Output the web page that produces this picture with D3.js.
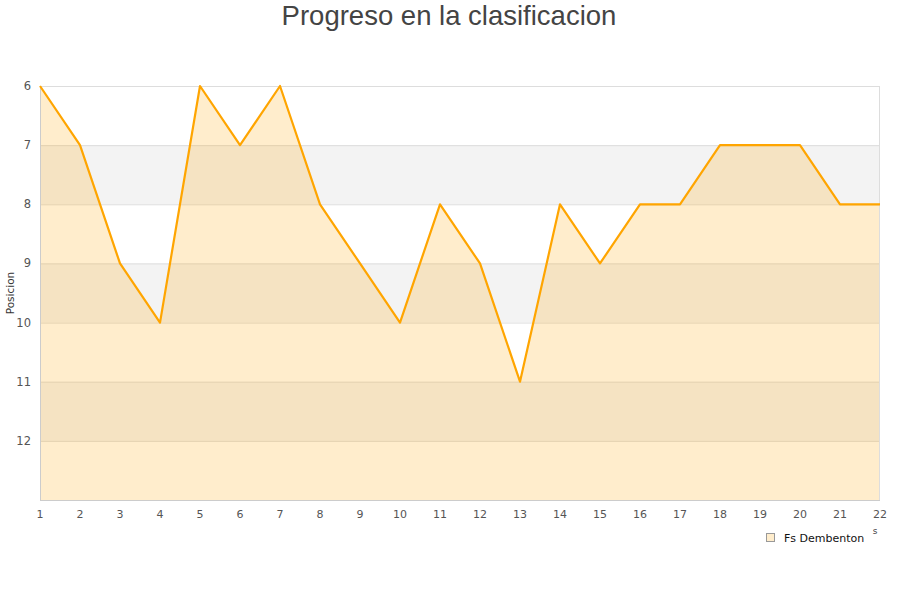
<!DOCTYPE html>
<html><head><meta charset="utf-8">
<script src="https://cdn.jsdelivr.net/npm/d3@7"></script>
<style>body{margin:0;background:#fff}svg{display:block}</style>
</head><body>
<svg id="c" width="900" height="600"></svg>
<script>
const jornadas = [1,2,3,4,5,6,7,8,9,10,11,12,13,14,15,16,17,18,19,20,21,22];
const posiciones = [6,7,9,10,6,7,6,8,9,10,8,9,11,8,9,8,8,7,7,7,8,8];
const yTicks = [6,7,8,9,10,11,12];
const seriesName = "Fs Dembenton";
const title = "Progreso en la clasificacion";
const yTitle = "Posicion";

const svg = d3.select("#c");
const L=40,R=880,T=86,B=500;
const x = d3.scaleLinear().domain([1,22]).range([L,R]);
const y = d3.scaleLinear().domain([6,13]).range([T,B]);

// bands
const bands = d3.range(6,13);
svg.selectAll("rect.band").data(bands).enter().append("rect")
  .attr("x",L).attr("width",R-L)
  .attr("y",d=>y(d)).attr("height",d=>y(d+1)-y(d))
  .attr("fill",d=>(d%2===1)?"#f3f3f3":"#ffffff");
// grid
svg.selectAll("line.grid").data(d3.range(7,13)).enter().append("line")
  .attr("x1",L).attr("x2",R).attr("y1",d=>y(d)+0.5).attr("y2",d=>y(d)+0.5)
  .attr("stroke","#dddddd").attr("stroke-width",1);

// area
const area = d3.area().x((d,i)=>x(jornadas[i])).y0(y(13)).y1(d=>y(d));
svg.append("path").datum(posiciones).attr("d",area)
  .attr("fill","orange").attr("fill-opacity",0.2);
// frame
svg.append("rect").attr("x",L+0.5).attr("y",T+0.5).attr("width",R-L-1).attr("height",B-T)
  .attr("fill","none").attr("stroke","#dddddd");
svg.append("line").attr("x1",L+0.5).attr("x2",L+0.5).attr("y1",T).attr("y2",B+1).attr("stroke","#cccccc");
svg.append("line").attr("x1",L).attr("x2",R).attr("y1",B+0.5).attr("y2",B+0.5).attr("stroke","#cccccc");

// line
const line = d3.line().x((d,i)=>x(jornadas[i])).y(d=>y(d));
svg.append("path").datum(posiciones).attr("d",line)
  .attr("fill","none").attr("stroke","#FFA500").attr("stroke-width",2.2).attr("stroke-linejoin","round");

// y labels
svg.selectAll("text.yl").data(yTicks).enter().append("text")
  .attr("x",31).attr("y",d=>y(d)+4).attr("text-anchor","end")
  .attr("font-family","DejaVu Sans").attr("font-size",11.5).attr("fill","#555")
  .text(d=>d);
// x labels
svg.selectAll("text.xl").data(jornadas).enter().append("text")
  .attr("x",d=>x(d)).attr("y",518).attr("text-anchor","middle")
  .attr("font-family","DejaVu Sans").attr("font-size",11).attr("fill","#555")
  .text(d=>d);
// y title
svg.append("text").attr("transform","translate(14,293) rotate(-90)")
  .attr("text-anchor","middle").attr("font-family","DejaVu Sans").attr("font-size",10.5).attr("fill","#333")
  .text(yTitle);
// title
svg.append("text").attr("x",449).attr("y",25).attr("text-anchor","middle")
  .attr("font-family","Liberation Sans").attr("font-size",27.5).attr("fill","#444")
  .text(title);
// stray x-title fragment
svg.append("text").attr("x",875).attr("y",534).attr("text-anchor","middle")
  .attr("font-family","DejaVu Sans").attr("font-size",9).attr("fill","#444").text("s");
// legend
svg.append("rect").attr("x",766.5).attr("y",533.5).attr("width",8).attr("height",8)
  .attr("fill","#ffedcc").attr("stroke","#999");
svg.append("text").attr("x",784).attr("y",541.5).attr("font-family","DejaVu Sans")
  .attr("font-size",11).attr("fill","#111").text(seriesName);
</script>
</body></html>
